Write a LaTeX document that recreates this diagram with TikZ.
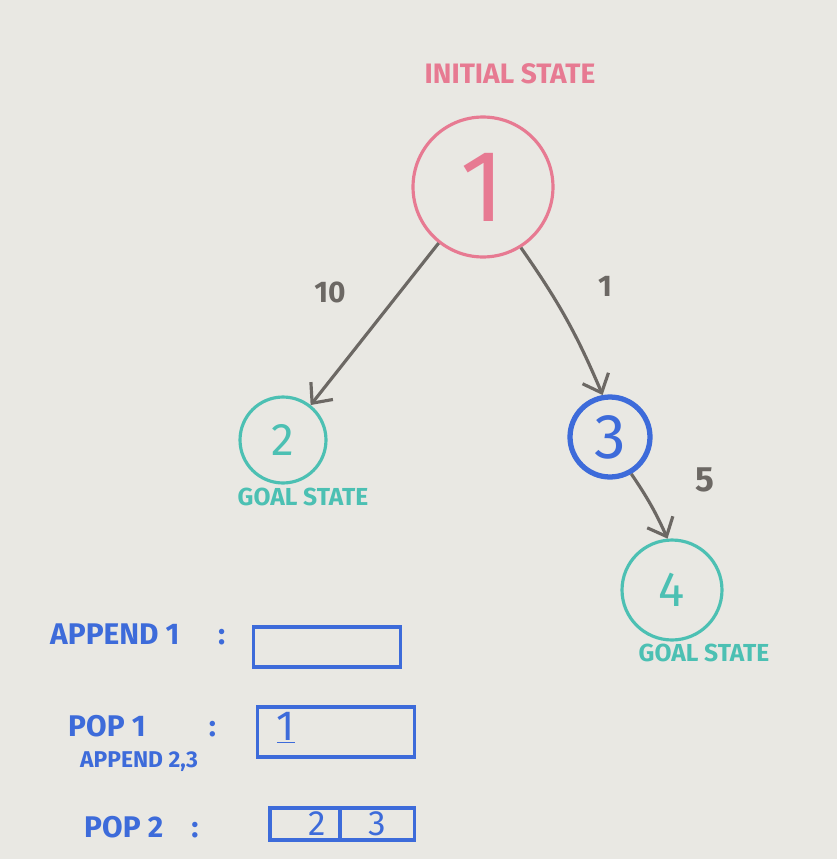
\documentclass[tikz,border=0pt]{standalone}
\usepackage{fontspec}
\setmainfont{Fira Sans}
\usetikzlibrary{arrows.meta}

\definecolor{board}{HTML}{E9E8E3}
\definecolor{markerpink}{HTML}{E77A92}
\definecolor{markerteal}{HTML}{4CC0B3}
\definecolor{markerblue}{HTML}{3D6BDA}
\definecolor{markergray}{HTML}{6C6864}

\newcommand{\fs}[1]{\fontsize{#1}{#1}\selectfont}

\begin{document}
\begin{tikzpicture}[
    x=0.02cm, y=-0.02cm,
    state/.style={circle, draw, line width=1.8pt, inner sep=0pt},
    caption/.style={font=\fs{14}\bfseries},
    weight/.style={text=markergray, font=\fs{17}\bfseries},
    arrow/.style={-{Straight Barb[length=9pt,width=16pt]}, line width=1.8pt, draw=markergray},
    op/.style={text=markerblue, font=\fs{17}\bfseries, anchor=west},
    cell/.style={draw=markerblue, line width=1.8pt, text=markerblue, font=\fs{20}, inner sep=0pt}
]

% whiteboard
\fill[board] (0,0) rectangle (837,859);

% search tree
\node[caption, text=markerpink, font=\fs{16}\bfseries] (initlabel) at (510,74) {INITIAL STATE};
\node[state, draw=markerpink, text=markerpink, minimum size=2.8cm, font=\fs{58}] (n1) at (483,187) {1};
\node[state, draw=markerteal, text=markerteal, minimum size=1.72cm, font=\fs{26}] (n2) at (283,440) {2};
\node[caption, text=markerteal] (goal2) at (303,497) {GOAL STATE};
\node[state, draw=markerblue, text=markerblue, line width=3pt, minimum size=1.6cm, font=\fs{36}] (n3) at (610,437) {3};
\node[state, draw=markerteal, text=markerteal, minimum size=2cm, font=\fs{28}] (n4) at (672,590) {4};
\node[caption, text=markerteal] (goal4) at (704,653) {GOAL STATE};

\draw[arrow] (n1) -- (n2);
\draw[arrow] (n1.302) to[bend left=6] (n3.100);
\draw[arrow] (n3.300) to[bend left=5] (n4.95);

\node[weight] (w12) at (330,292) {10};
\node[weight] (w13) at (605,286) {1};
\node[weight, font=\fs{20}\bfseries] (w34) at (705,480) {5};

% queue trace
\node[op] (step1) at (44,634) {APPEND 1\hspace{22pt}:};
\node[cell, minimum width=2.94cm, minimum height=0.8cm] (q1) at (327,647) {};

\node[op] (step2) at (62,726) {POP 1\hspace{36pt}:};
\node[op, font=\fs{13}\bfseries] (step2b) at (74,762) {APPEND 2,3};
\node[cell, minimum width=3.14cm, minimum height=1.0cm] (q2) at (336,732) {};
\node[text=markerblue, font=\fs{24}] (q2a) at (286,728) {\underline{1}};

\node[op] (step3) at (78,827) {POP 2\hspace{16pt}:};
\node[cell, minimum width=1.4cm, minimum height=0.64cm] (q3a) at (305,824) {\hspace{14pt}2};
\node[cell, minimum width=1.5cm, minimum height=0.64cm] (q3b) at (377,824) {3\hspace{14pt}};

\end{tikzpicture}
\end{document}
